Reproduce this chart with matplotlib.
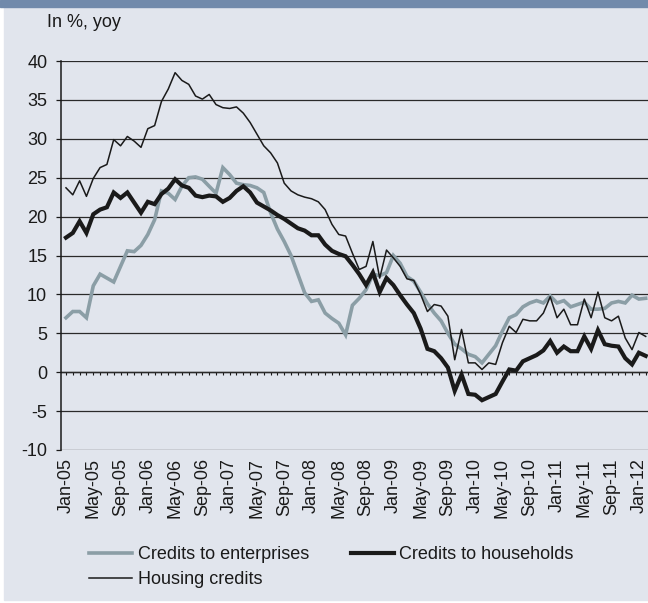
import numpy as np
import pandas as pd
import matplotlib.pyplot as plt
from matplotlib.patches import Rectangle

plt.rcParams['font.family'] = ['Liberation Sans', 'DejaVu Sans']
plt.rcParams['axes.unicode_minus'] = False

# monthly data, Jan-05 .. Feb-12, in %, yoy
months = pd.date_range('2005-01-01', periods=86, freq='MS')
month_labels = months.strftime('%b-%y')

enterprises = [
    7.0, 7.8, 7.8, 7.0, 11.1, 12.6, 12.1, 11.6, 13.6, 15.6, 15.5, 16.3,
    17.7, 19.6, 23.3, 23.0, 22.2, 23.9, 25.0, 25.1, 24.8, 23.9, 23.0, 26.3,
    25.4, 24.3, 24.1, 24.0, 23.7, 23.1, 20.5, 18.4, 16.8, 15.0, 12.6, 10.2,
    9.1, 9.3, 7.6, 6.9, 6.3, 4.8, 8.6, 9.5, 10.6, 12.6, 12.4, 12.8,
    15.0, 14.0, 12.3, 11.7, 10.3, 8.8, 7.6, 6.6, 5.0, 3.6, 3.0, 2.3,
    2.0, 1.2, 2.3, 3.4, 5.3, 7.0, 7.4, 8.4, 8.9, 9.2, 8.9, 9.8,
    8.9, 9.2, 8.4, 8.7, 9.0, 8.1, 8.1, 8.2, 8.9, 9.1, 8.9, 9.9,
    9.4, 9.5]

households = [
    17.3, 17.9, 19.4, 17.9, 20.3, 20.9, 21.2, 23.1, 22.4, 23.1, 21.8, 20.5,
    21.9, 21.6, 22.9, 23.6, 24.8, 24.0, 23.7, 22.7, 22.5, 22.7, 22.6, 21.9,
    22.4, 23.3, 23.9, 23.1, 21.8, 21.3, 20.8, 20.2, 19.7, 19.1, 18.5, 18.2,
    17.6, 17.6, 16.4, 15.6, 15.2, 14.9, 13.8, 12.6, 11.2, 12.8, 10.3, 12.1,
    11.2, 9.9, 8.7, 7.6, 5.6, 3.0, 2.7, 1.8, 0.6, -2.4, -0.3, -2.8,
    -2.9, -3.6, -3.2, -2.8, -1.2, 0.35, 0.2, 1.4, 1.8, 2.2, 2.8, 4.0,
    2.5, 3.3, 2.7, 2.7, 4.6, 3.0, 5.4, 3.6, 3.4, 3.3, 1.8, 1.0,
    2.5, 2.1]

housing = [
    23.7, 22.8, 24.6, 22.6, 24.9, 26.3, 26.7, 29.9, 29.1, 30.3, 29.7, 28.9,
    31.3, 31.7, 34.8, 36.4, 38.5, 37.5, 37.0, 35.5, 35.1, 35.7, 34.4, 34.0,
    33.9, 34.1, 33.3, 32.1, 30.6, 29.1, 28.2, 26.9, 24.3, 23.3, 22.8, 22.5,
    22.3, 21.9, 20.9, 19.0, 17.7, 17.5, 15.3, 13.2, 13.6, 16.8, 12.1, 15.7,
    14.7, 13.6, 12.0, 11.8, 10.0, 7.8, 8.7, 8.5, 7.2, 1.6, 5.5, 1.2,
    1.2, 0.35, 1.2, 1.0, 3.8, 5.9, 5.1, 6.8, 6.6, 6.6, 7.6, 9.7,
    7.0, 8.1, 6.1, 6.1, 9.4, 7.0, 10.3, 7.0, 6.6, 7.2, 4.4, 2.9,
    5.1, 4.6]

x = np.arange(len(months))

BG = '#e1e5ed'
BAR = '#718aab'
GREY = '#8b9ea6'

fig = plt.figure(figsize=(6.48, 6.03), dpi=100)
fig.patch.set_facecolor('white')
fig.add_artist(Rectangle((4 / 648, 3 / 603), 1, 1, transform=fig.transFigure,
                         color=BG, zorder=-10))
fig.add_artist(Rectangle((0, 1 - 7 / 603), 1, 7 / 603, transform=fig.transFigure,
                         color=BAR, zorder=-9))

ax = fig.add_axes([61 / 648, 153 / 603, 1 - 61 / 648, 389 / 603])
ax.set_facecolor('none')

ax.plot(x, enterprises, color=GREY, lw=2.6, label='Credits to enterprises',
        zorder=3, solid_joinstyle='miter')
ax.plot(x, households, color='#1a1a1a', lw=3.0, label='Credits to households',
        zorder=4, solid_joinstyle='miter')
ax.plot(x, housing, color='#1a1a1a', lw=1.1, label='Housing credits', zorder=5)

ax.set_xlim(-0.73, 85.34)
ax.set_ylim(-10, 40)
ax.set_yticks(np.arange(-10, 41, 5))
ax.grid(axis='y', color='#2a2a2a', lw=0.9)
ax.set_axisbelow(True)

for s in ['top', 'right', 'bottom']:
    ax.spines[s].set_visible(False)
ax.spines['left'].set_color('#1a1a1a')
ax.spines['left'].set_linewidth(1.1)

ax.set_xticks(x[::4])
ax.set_xticklabels(month_labels[::4], rotation=90, va='top', ha='center')
ax.tick_params(axis='x', length=0, pad=6, labelsize=13, colors='#1a1a1a')
ax.tick_params(axis='y', length=3.6, width=0.9, pad=6.3, labelsize=13,
               colors='#1a1a1a')

# zero line with a tick at every month
zero = ax.secondary_xaxis(0, transform=ax.transData)
zero.set_xticks(x)
zero.tick_params(length=2.4, width=0.8, direction='out', labelbottom=False,
                 colors='#1a1a1a')
zero.spines['bottom'].set_color('#1a1a1a')
zero.spines['bottom'].set_linewidth(1.0)

fig.text(47 / 648, 1 - 26.7 / 603, 'In %, yoy', fontsize=13, va='baseline',
         ha='left', color='#1a1a1a')

h = ax.get_legend_handles_labels()
order = [0, 2, 1]
fig.legend([h[0][i] for i in order], [h[1][i] for i in order], ncol=2,
           loc='upper left', bbox_to_anchor=(89 / 648, 1 - 546 / 603),
           frameon=False, fontsize=13, handlelength=2.4, handletextpad=0.3,
           columnspacing=2.3, labelspacing=0.45, borderpad=0, borderaxespad=0,
           labelcolor='#1a1a1a')

fig.savefig('out.png', dpi=100, facecolor=fig.get_facecolor())
